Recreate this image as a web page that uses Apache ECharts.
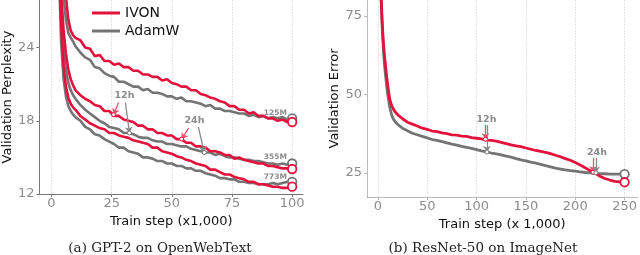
<!DOCTYPE html>
<html><head><meta charset="utf-8">
<script src="https://cdn.jsdelivr.net/npm/echarts@6/dist/echarts.min.js"></script>
<style>html,body{margin:0;padding:0;background:#fff}#c{width:640px;height:255px}</style>
</head><body><div id="c"></div>
<script>
// ---------- (a) GPT-2 on OpenWebText ----------
const stepsL = [3,4,5,6,7,8,9,10,12,14,16,18,20,22,24,26,28,30,32,34,36,38,40,42,44,46,48,50,52,54,56,58,60,62,64,66,68,70,72,74,76,78,80,82,84,86,88,90,92,94,96,98,100];
const ivon125 = [40,35,30.5,28.2,26.3,25.4,25.0,24.8, 24.6,24.0,23.9,23.3,23.4,22.9,22.9,22.6,22.7,22.4, 22.4,22.1,22.1,21.8,21.8,21.6,21.6,21.3,21.4,21.1, 21.0,20.8,20.8,20.5,20.5,20.2,20.1,19.9,19.8,19.6, 19.5,19.2,19.2,18.9,18.9,18.6,18.7,18.4,18.4,18.2, 18.2,18.0,18.1,17.9,17.9];
const adam125 = [38,32,28.2,26.3,25.2,24.8,24.5,24.1, 23.6,23.2,23.0,22.4,22.3,21.9,21.7,21.6,21.2,21.2, 21.0,20.8,20.8,20.5,20.6,20.3,20.3,20.2,20.0,20.0, 19.8,19.9,19.6,19.6,19.5,19.4,19.2,19.3,19.0,19.0, 18.8,18.8,18.7,18.6,18.6,18.4,18.5,18.3,18.4,18.2, 18.3,18.2,18.3,18.1,18.2];
const ivon355 = [34,28.5,25.5,23.5,22.2,21.4,20.9,20.5, 20.1,19.8,19.6,19.3,19.2,18.8,18.8,18.4,18.4,18.1, 18.0,17.9,17.6,17.6,17.3,17.3,17.0,17.0,16.8,16.8, 16.5,16.5,16.2,16.2,15.9,15.9,15.8,15.5,15.5,15.4, 15.2,15.2,14.9,15.0,14.8,14.7,14.6,14.5,14.5,14.3, 14.3,14.2,14.1,14.1,14.05];
const adam355 = [33,27,24,22.2,21.1,20.5,20.1,19.8, 19.3,18.9,18.6,18.3,18.0,17.8,17.5,17.4,17.3,17.0, 17.0,16.9,16.7,16.6,16.6,16.4,16.3,16.3,16.1,16.1, 16.0,15.9,15.9,15.7,15.6,15.5,15.4,15.4,15.2,15.3, 15.1,15.0,15.0,14.9,14.8,14.8,14.7,14.7,14.6,14.5, 14.5,14.4,14.5,14.4,14.5];
const ivon773 = [32,26,22.5,20.8,19.9,19.4,19.1,18.9, 18.4,18.1,17.8,17.6,17.4,17.3,17.0,17.0,16.8,16.7, 16.6,16.4,16.3,16.2,16.1,15.8,15.8,15.5,15.4,15.3, 15.1,15.0,14.8,14.7,14.5,14.4,14.3,14.0,14.0,13.8, 13.6,13.6,13.4,13.3,13.2,13.0,13.0,12.8,12.8,12.7, 12.6,12.6,12.5,12.5,12.6];
const adam773 = [31,24.5,21.5,20.0,19.2,18.8,18.5,18.3, 18.0,17.5,17.3,16.9,16.8,16.5,16.3,16.1,15.8,15.8, 15.5,15.4,15.3,15.0,15.0,14.9,14.7,14.7,14.5,14.5, 14.3,14.3,14.1,14.1,13.9,13.9,13.7,13.6,13.5,13.3, 13.3,13.2,13.2,13.0,13.0,12.9,12.9,12.8,12.8,12.8, 12.9,12.8,12.9,13.0,13.0];
const xTicksL = [0,25,50,75,100];
const yTicksL = [12,18,24];
const arrowsL = [[27.9,19.5,25.8,18.5,'r'],[30.7,19.5,32.4,17.0,'g'],[57,17.4,54.1,16.5,'r'],[61,17.5,63.5,15.4,'g']];
const timeLabelsL = [['12h',30.3,20.1],['24h',59.4,18.0]];
const sizeLabels = [['125M',93,18.6],['355M',93,15.0],['773M',93,13.4]];

// ---------- (b) ResNet-50 on ImageNet ----------
const stepsR = [2,3,4,5,6,7,8,9,10,12,14,16,18,20,25,30,35,40,45,50,55,60,65,70,75,80,85,90,95,100,105,110,115,120,125,130,135,140,145,150,155,160,165,170,175,180,185,190,195,200,205,210,215,220,225,230,235,240,245,250];
const ivonR = [95,84,76,69.6,65,61.5,58.5,55.5,53,48.5,46.5,45.2,44.3,43.6, 42.3,41.2,40.6,40.0,39.3,38.9,38.4,38.2,37.8,37.6, 37.2,37.1,36.8,36.7,36.3,36.1,35.9,35.5,35.4,35.2, 34.8,34.4,34.0,33.7,33.4,33.0,32.6,32.2,31.9,31.6, 31.2,30.7,30.2,29.6,29.1,28.4,27.6,26.7,25.8,25.0, 24.0,23.3,22.8,22.4,22.2,22.1];
const adamR = [94,83,74,67.5,62.5,58.5,55.5,52.5,50,46,43.5,42.0,41.2,40.5, 39.3,38.5,37.7,37.2,36.7,36.2,35.7,35.4,35.0,34.6, 34.2,33.9,33.5,33.2,32.9,32.5,32.1,31.8,31.4,31.1, 30.8,30.4,30.1,29.6,29.2,28.9,28.5,28.2,27.8,27.4, 27.0,26.6,26.3,26.0,25.8,25.6,25.4,25.2,25.1,24.9, 24.8,24.8,24.7,24.7,24.7,24.7];
const xTicksR = [0,50,100,150,200,250];
const yTicksR = [25,50,75];
const arrowsR = [[109,40.3,109,35.8,'r'],[110.5,40.3,110.5,31.7,'g'],[218,29.8,218,25.3,'r'],[221,29.8,221,25.1,'g']];
const timeLabelsR = [['12h',110,41.9],['24h',222,31.5]];

const RED = '#e3123d', GRAY = '#747474', TXT = '#8c8c8c', FONT = 'DejaVu Sans';
const chart = echarts.init(document.getElementById('c'));

function pts(steps, vals){ return steps.map((s,i)=>[s, vals[i]]); }
function lineSeries(name, color, steps, vals, idx, w){
  return {type:'line', name, xAxisIndex:idx, yAxisIndex:idx, data:pts(steps, vals), symbol:'none',
    lineStyle:{color, width:w}, itemStyle:{color}, silent:true,
    markPoint:{symbol:'circle', symbolSize:8.5, silent:true, animation:false,
      itemStyle:{color:'#fff', borderColor:color, borderWidth:1.8}, label:{show:false},
      data:[{coord:[steps[steps.length-1], vals[vals.length-1]]}]}};
}
function annSeries(idx, arrows, tLabels, extra){
  const ml = arrows.map(a=>[{coord:[a[0],a[1]], lineStyle:{color:a[4]==='r'?'#e8506e':'#8a8a8a', width:1.3, type:'solid'}},{coord:[a[2],a[3]]}]);
  const mp = tLabels.map(t=>({coord:[t[1],t[2]], symbolSize:0,
    label:{show:true, formatter:t[0], color:TXT, fontSize:9.5, fontWeight:'bold', fontFamily:FONT, position:'inside'}}));
  (extra||[]).forEach(t=>mp.push({coord:[t[1],t[2]], symbolSize:0,
    label:{show:true, formatter:t[0], color:TXT, fontSize:7.5, fontWeight:'bold', fontFamily:FONT, position:'inside'}}));
  arrows.forEach(a=>mp.push({coord:[a[2],a[3]], symbol:'circle', symbolSize:4,
    itemStyle:{color:'#fff', borderColor:a[4]==='r'?RED:GRAY, borderWidth:1}, label:{show:false}}));
  return {type:'scatter', name:'ann'+idx, xAxisIndex:idx, yAxisIndex:idx, data:[], silent:true, z:5,
    markLine:{silent:true, animation:false, symbol:['none','arrow'], symbolSize:6, label:{show:false}, data:ml},
    markPoint:{silent:true, animation:false, data:mp}};
}
function xAxis(idx, min, max, ticks, name, lineColor){
  return {type:'value', gridIndex:idx, min, max, name, nameLocation:'middle', nameGap:19,
    nameTextStyle:{color:'#111', fontSize:13, fontFamily:FONT},
    axisLine:{show:true, onZero:false, lineStyle:{color:lineColor, width:1}},
    axisTick:{show:true, customValues:ticks, length:3, lineStyle:{color:lineColor}},
    axisLabel:{customValues:ticks, color:TXT, fontSize:13, fontFamily:FONT, margin:3},
    splitLine:{show:true, lineStyle:{color:'#dcdcdc', type:[1.5,1.5], width:1}}};
}
function yAxis(idx, min, max, ticks, name, gap, lineColor){
  return {type:'value', gridIndex:idx, min, max, name, nameLocation:'middle', nameGap:gap,
    nameTextStyle:{color:'#111', fontSize:13, fontFamily:FONT},
    axisLine:{show:true, onZero:false, lineStyle:{color:lineColor, width:1}},
    axisTick:{show:true, customValues:ticks, length:3, lineStyle:{color:lineColor}},
    axisLabel:{customValues:ticks, color:TXT, fontSize:13, fontFamily:FONT, margin:5},
    splitLine:{show:false}};
}

chart.setOption({
  animation:false,
  grid:[{left:36, top:0, right:337, bottom:61}, {left:367, top:0, right:0, bottom:58}],
  xAxis:[xAxis(0,-5,104.5,xTicksL,'Train step (x1,000)','#777'), xAxis(1,-11,263,xTicksR,'Train step (x 1,000)','#bbb')],
  yAxis:[yAxis(0,12,27.9,yTicksL,'Validation Perplexity',20,'#777'), yAxis(1,17.4,80.1,yTicksR,'Validation Error',25,'#bbb')],
  legend:{data:['IVON','AdamW'], orient:'vertical', left:87, top:0, icon:'rect', itemWidth:28, itemHeight:3, itemGap:2,
    textStyle:{fontSize:14, color:'#111', fontFamily:FONT, lineHeight:16}},
  series:[
    lineSeries('AdamW', GRAY, stepsL, adam125, 0, 2.6),
    lineSeries('IVON', RED, stepsL, ivon125, 0, 2.6),
    lineSeries('AdamW', GRAY, stepsL, adam355, 0, 2.6),
    lineSeries('IVON', RED, stepsL, ivon355, 0, 2.6),
    lineSeries('AdamW', GRAY, stepsL, adam773, 0, 2.6),
    lineSeries('IVON', RED, stepsL, ivon773, 0, 2.6),
    lineSeries('AdamW', GRAY, stepsR, adamR, 1, 2.8),
    lineSeries('IVON', RED, stepsR, ivonR, 1, 2.8),
    annSeries(0, arrowsL, timeLabelsL, sizeLabels),
    annSeries(1, arrowsR, timeLabelsR, [])
  ],
  graphic:[
    {type:'text', x:160, y:248, style:{text:'(a) GPT-2 on OpenWebText', font:'13.5px "DejaVu Serif"', fill:'#222', align:'center', verticalAlign:'middle', textAlign:'center', textVerticalAlign:'middle'}},
    {type:'text', x:483, y:248, style:{text:'(b) ResNet-50 on ImageNet', font:'13.5px "DejaVu Serif"', fill:'#222', align:'center', verticalAlign:'middle', textAlign:'center', textVerticalAlign:'middle'}}
  ]
});
</script></body></html>
